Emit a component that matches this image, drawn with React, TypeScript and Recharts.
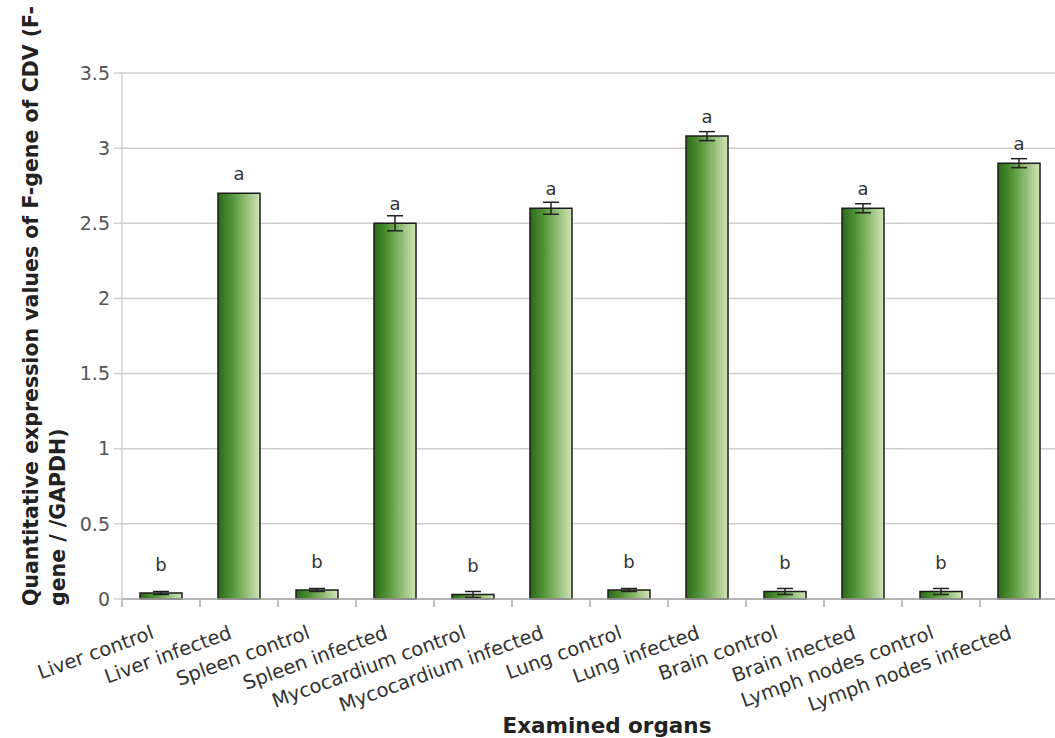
import React from 'react';
import { BarChart, Bar, XAxis, YAxis, CartesianGrid, ErrorBar, LabelList } from 'recharts';

const organs = [
  'Liver control', 'Liver infected', 'Spleen control', 'Spleen infected',
  'Mycocardium control', 'Mycocardium infected', 'Lung control', 'Lung infected',
  'Brain control', 'Brain inected', 'Lymph nodes control', 'Lymph nodes infected',
];
const expression = [0.04, 2.7, 0.06, 2.5, 0.03, 2.6, 0.06, 3.08, 0.05, 2.6, 0.05, 2.9];
const errors = [0.01, 0.0, 0.01, 0.05, 0.02, 0.04, 0.01, 0.03, 0.02, 0.03, 0.02, 0.03];
const letters = ['b', 'a', 'b', 'a', 'b', 'a', 'b', 'a', 'b', 'a', 'b', 'a'];
const yTicks = [0, 0.5, 1, 1.5, 2, 2.5, 3, 3.5];

const data = organs.map((name, i) => ({
  name,
  value: expression[i],
  err: errors[i],
  letter: letters[i],
}));

const W = 1070;
const H = 738;
const M = { top: 73, right: 12, left: 0, bottom: 0 };
const Y_W = 122;
const X_H = 139;
const PLOT_BOTTOM = H - X_H;
const BAND = (W - M.right - Y_W) / organs.length;
const FONT = '"DejaVu Sans", Verdana, sans-serif';

const XTick = (props: any) => {
  const { x, payload, index } = props;
  return (
    <g>
      <line x1={x - BAND / 2} x2={x - BAND / 2} y1={PLOT_BOTTOM} y2={PLOT_BOTTOM + 8} stroke="#aaa" strokeWidth={1.5} />
      {index === organs.length - 1 && (
        <line x1={x + BAND / 2} x2={x + BAND / 2} y1={PLOT_BOTTOM} y2={PLOT_BOTTOM + 8} stroke="#aaa" strokeWidth={1.5} />
      )}
      <text
        x={x - 6}
        y={PLOT_BOTTOM + 39}
        textAnchor="end"
        transform={`rotate(-20, ${x - 6}, ${PLOT_BOTTOM + 39})`}
        fontFamily={FONT}
        fontSize={19.5}
        fill="#333"
      >
        {payload.value}
      </text>
    </g>
  );
};

const LetterLabel = (props: any) => {
  const { x, y, width, value } = props;
  const off = value === 'b' ? 22 : 13;
  return (
    <text x={x + width / 2} y={y - off} textAnchor="middle" fontFamily={FONT} fontSize={18} fill="#333">
      {value}
    </text>
  );
};

const YTitle = () => (
  <g fontFamily={FONT} fontWeight="bold" fontSize={20.5} fill="#222">
    <text x={38} y={606} transform="rotate(-90, 38, 606)" textAnchor="start">
      Quantitative expression values of F-gene of CDV (F-
    </text>
    <text x={65} y={606} transform="rotate(-90, 65, 606)" textAnchor="start">
      gene / /GAPDH)
    </text>
  </g>
);

const XTitle = () => (
  <text x={607} y={733} textAnchor="middle" fontFamily={FONT} fontWeight="bold" fontSize={21.5} fill="#222">
    Examined organs
  </text>
);

export default function App() {
  return (
    <div style={{ position: 'absolute', left: 0, top: 0, width: 1055, height: H, overflow: 'hidden', background: '#fff' }}>
      <BarChart width={W} height={H} data={data} margin={M} barSize={42}>
        <defs>
          <linearGradient id="barGrad" x1="0" y1="0" x2="1" y2="0">
            <stop offset="0%" stopColor="#2b6a18" />
            <stop offset="35%" stopColor="#55973a" />
            <stop offset="100%" stopColor="#d2e5b6" />
          </linearGradient>
        </defs>
        <CartesianGrid vertical={false} stroke="#cfcfcf" strokeWidth={1.5} />
        <XAxis
          dataKey="name"
          height={X_H}
          interval={0}
          tickLine={false}
          axisLine={{ stroke: '#aaa', strokeWidth: 1.5 }}
          tick={<XTick />}
          label={{ content: () => <XTitle /> }}
        />
        <YAxis
          width={Y_W}
          domain={[0, 3.5]}
          ticks={yTicks}
          tickSize={8}
          tickMargin={4}
          tickLine={{ stroke: '#cfcfcf', strokeWidth: 1.5 }}
          axisLine={{ stroke: '#cfcfcf', strokeWidth: 1.5 }}
          tick={{ fill: '#555', fontSize: 19, fontFamily: FONT }}
          label={{ content: () => <YTitle /> }}
        />
        <Bar dataKey="value" fill="url(#barGrad)" stroke="#1c1c1c" strokeWidth={1.5} isAnimationActive={false}>
          <ErrorBar dataKey="err" width={8} stroke="#222" strokeWidth={1.5} />
          <LabelList dataKey="letter" content={<LetterLabel />} />
        </Bar>
      </BarChart>
    </div>
  );
}
